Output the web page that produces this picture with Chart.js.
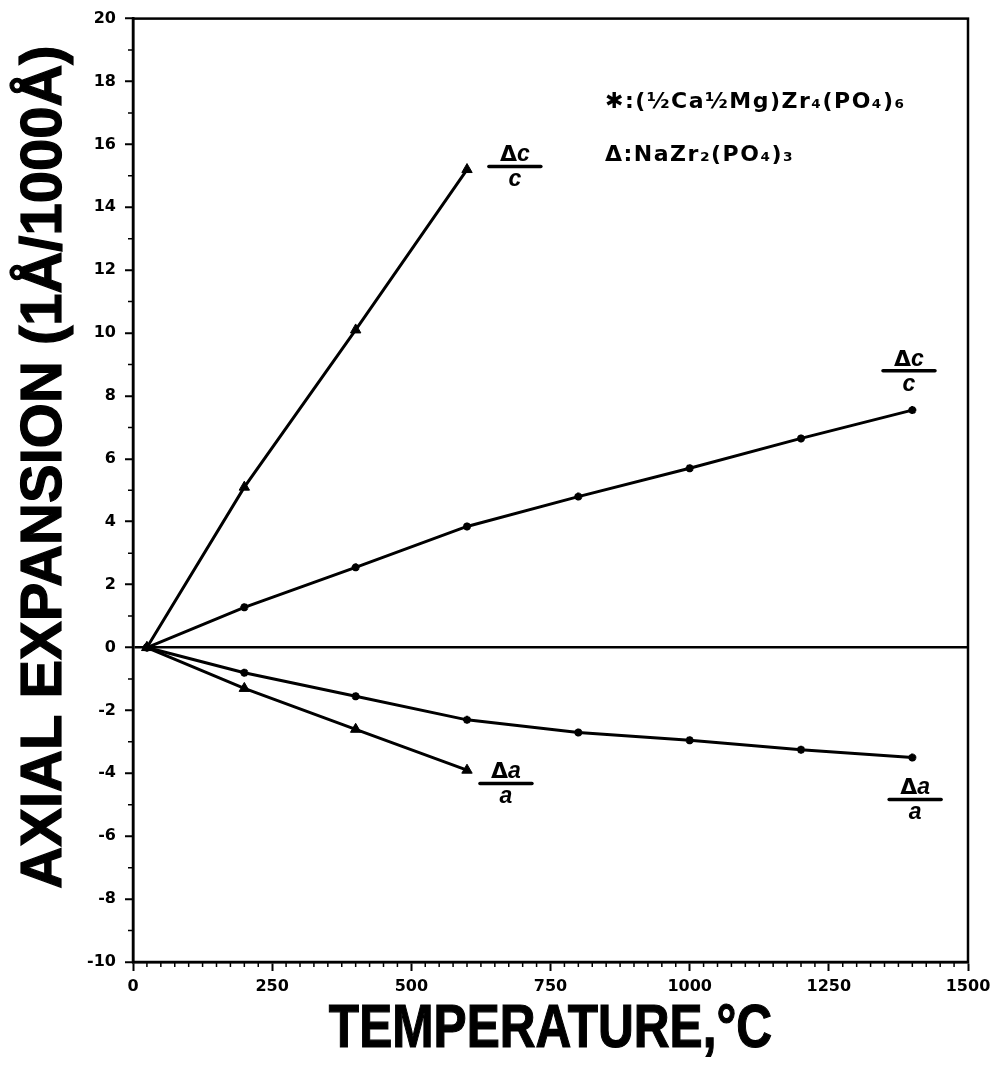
<!DOCTYPE html>
<html>
<head>
<meta charset="utf-8">
<script src="https://cdn.jsdelivr.net/npm/chart.js@4.4.1/dist/chart.umd.min.js"></script>
<style>
  html, body { margin: 0; padding: 0; background: #fff; }
  #wrap { width: 1002px; height: 1076px; }
</style>
</head>
<body>
<div id="wrap"><canvas id="chart" width="1002" height="1076"></canvas></div>
<script>
// Temperatures (°C) and axial expansion (Å per 1000 Å)
const tempNZP = [25, 200, 400, 600];
const nzpDeltaC = [0, 5.1, 10.1, 15.2];
const nzpDeltaA = [0, -1.3, -2.6, -3.9];

const tempCMZP = [25, 200, 400, 600, 800, 1000, 1200, 1400];
const cmzpDeltaC = [0, 1.28, 2.55, 3.85, 4.8, 5.7, 6.65, 7.55];
const cmzpDeltaA = [0, -0.8, -1.55, -2.3, -2.7, -2.95, -3.25, -3.5];

const xTickValues = [0, 250, 500, 750, 1000, 1250, 1500];
const yTickValues = [-10, -8, -6, -4, -2, 0, 2, 4, 6, 8, 10, 12, 14, 16, 18, 20];

const xTitle = 'TEMPERATURE,°C';
const yTitle = 'AXIAL EXPANSION (1Å/1000Å)';
const legendLines = ['✱:(½Ca½Mg)Zr₄(PO₄)₆', 'Δ:NaZr₂(PO₄)₃'];

// Curve captions, anchored in data units (fraction bar centre)
const captionText = [['Δ', 'c', 'c'], ['Δ', 'c', 'c'], ['Δ', 'a', 'a'], ['Δ', 'a', 'a']];
const captionAt = [[686, 15.3], [1394, 8.8], [670, -4.32], [1405, -4.83]];

function pairs(xs, ys) { return xs.map((x, i) => ({ x: x, y: ys[i] })); }

const INK = '#000';

const minorTicks = {
  id: 'minorTicks',
  afterDraw(chart) {
    const { ctx, chartArea: a, scales: { x, y } } = chart;
    ctx.save();
    ctx.strokeStyle = INK;
    ctx.lineWidth = 1.5;
    ctx.beginPath();
    for (let v = 25; v < 1500; v += 25) {
      if (v % 250 === 0) continue;
      const px = x.getPixelForValue(v);
      ctx.moveTo(px, a.bottom);
      ctx.lineTo(px, a.bottom + 5);
    }
    for (let v = -9; v < 20; v += 2) {
      const py = y.getPixelForValue(v);
      ctx.moveTo(a.left, py);
      ctx.lineTo(a.left - 5, py);
    }
    ctx.stroke();
    ctx.restore();
  }
};

const frame = {
  id: 'frame',
  beforeDatasetsDraw(chart) {
    const { ctx, chartArea: a } = chart;
    ctx.save();
    ctx.strokeStyle = INK;
    ctx.lineWidth = 2.5;
    ctx.strokeRect(a.left, a.top, a.right - a.left, a.bottom - a.top);
    ctx.restore();
  }
};

// Heavy, condensed axis titles
const axisTitles = {
  id: 'axisTitles',
  afterDraw(chart) {
    const { ctx, chartArea: a } = chart;
    ctx.save();
    ctx.fillStyle = INK;
    ctx.strokeStyle = INK;
    ctx.lineWidth = 1.2;
    ctx.textAlign = 'center';
    ctx.textBaseline = 'middle';

    ctx.save();
    ctx.translate((a.left + a.right) / 2, 1030);
    ctx.scale(0.8, 1);
    ctx.font = 'bold 62px "Liberation Sans"';
    ctx.fillText(xTitle, 0, 0);
    ctx.strokeText(xTitle, 0, 0);
    ctx.restore();

    ctx.save();
    ctx.translate(45, 467);
    ctx.rotate(-Math.PI / 2);
    ctx.font = 'bold 58px "Liberation Sans"';
    ctx.fillText(yTitle, 0, 0);
    ctx.strokeText(yTitle, 0, 0);
    ctx.restore();

    ctx.restore();
  }
};

const captions = {
  id: 'captions',
  afterDraw(chart) {
    const { ctx, scales: { x, y } } = chart;
    ctx.save();
    ctx.fillStyle = INK;
    ctx.strokeStyle = INK;
    captionText.forEach((t, i) => {
      const cx = x.getPixelForValue(captionAt[i][0]);
      const cy = y.getPixelForValue(captionAt[i][1]);
      const fUp = 'bold 22px "DejaVu Sans"';
      const fIt = 'bold italic 23px "Liberation Sans"';
      ctx.font = fUp;
      const w1 = ctx.measureText(t[0]).width;
      ctx.font = fIt;
      const w2 = ctx.measureText(t[1]).width;
      const w3 = ctx.measureText(t[2]).width;
      const left = cx - (w1 + w2) / 2;
      ctx.textBaseline = 'alphabetic';
      ctx.textAlign = 'left';
      ctx.font = fUp;
      ctx.fillText(t[0], left, cy - 5);
      ctx.font = fIt;
      ctx.fillText(t[1], left + w1, cy - 5);
      ctx.fillText(t[2], cx - w3 / 2, cy + 20);
      ctx.lineWidth = 3.5;
      ctx.lineCap = 'round';
      ctx.beginPath();
      ctx.moveTo(cx - 26, cy);
      ctx.lineTo(cx + 26, cy);
      ctx.stroke();
    });
    ctx.restore();
  }
};

const legendText = {
  id: 'legendText',
  afterDraw(chart) {
    const { ctx } = chart;
    ctx.save();
    ctx.fillStyle = INK;
    ctx.font = 'bold 22px "DejaVu Sans"';
    ctx.letterSpacing = '1.5px';
    ctx.textAlign = 'left';
    ctx.textBaseline = 'middle';
    ctx.fillText(legendLines[0], 605, 102);
    ctx.fillText(legendLines[1], 605, 155);
    ctx.restore();
  }
};

function series(label, xs, ys, style, radius) {
  return {
    label: label,
    data: pairs(xs, ys),
    borderColor: INK,
    backgroundColor: INK,
    borderWidth: 3,
    pointStyle: style,
    pointRadius: radius,
    pointBorderWidth: style === 'triangle' ? 1 : 2.5,
    pointBackgroundColor: INK,
    pointBorderColor: INK,
    tension: 0,
    fill: false
  };
}

new Chart(document.getElementById('chart'), {
  type: 'line',
  data: {
    datasets: [
      series('NaZr₂(PO₄)₃ Δc/c', tempNZP, nzpDeltaC, 'triangle', 6),
      series('NaZr₂(PO₄)₃ Δa/a', tempNZP, nzpDeltaA, 'triangle', 6),
      series('(½Ca½Mg)Zr₄(PO₄)₆ Δc/c', tempCMZP, cmzpDeltaC, 'star', 4),
      series('(½Ca½Mg)Zr₄(PO₄)₆ Δa/a', tempCMZP, cmzpDeltaA, 'star', 4)
    ]
  },
  options: {
    responsive: false,
    animation: false,
    devicePixelRatio: 1,
    layout: { padding: { top: 17, right: 34, left: 0, bottom: 0 } },
    plugins: { legend: { display: false }, tooltip: { enabled: false } },
    scales: {
      x: {
        type: 'linear',
        min: 0, max: 1500,
        afterBuildTicks(s) { s.ticks = xTickValues.map(v => ({ value: v })); },
        afterFit(s) { s.height = 114; },
        ticks: {
          color: INK,
          padding: 6,
          maxRotation: 0,
          font: { family: 'DejaVu Sans', weight: 'bold', size: 16 },
          callback: v => String(v)
        },
        grid: { drawOnChartArea: false, tickLength: 9, tickWidth: 2, tickColor: INK },
        border: { color: INK, width: 2.5 },
        title: { display: false }
      },
      y: {
        type: 'linear',
        min: -10, max: 20,
        afterBuildTicks(s) { s.ticks = yTickValues.map(v => ({ value: v })); },
        afterFit(s) { s.width = 133; },
        ticks: {
          color: INK,
          padding: 9,
          font: { family: 'DejaVu Sans', weight: 'bold', size: 16 },
          callback: v => String(v)
        },
        grid: {
          color: c => (c.tick && c.tick.value === 0 ? INK : 'rgba(0,0,0,0)'),
          lineWidth: 2.5,
          tickLength: 8,
          tickWidth: 2,
          tickColor: INK
        },
        border: { color: INK, width: 2.5 },
        title: { display: false }
      }
    }
  },
  plugins: [frame, minorTicks, captions, legendText, axisTitles]
});
</script>
</body>
</html>
